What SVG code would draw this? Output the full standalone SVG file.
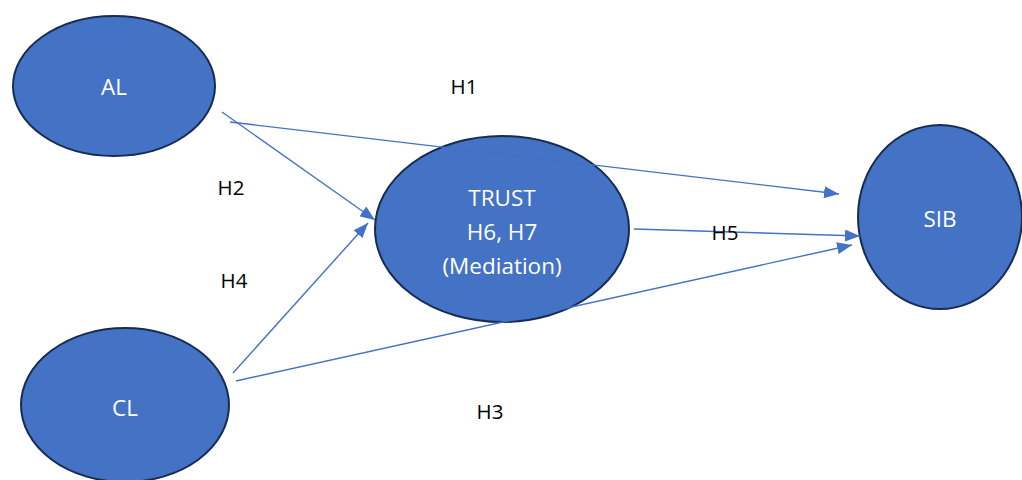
<svg xmlns="http://www.w3.org/2000/svg" width="1022" height="480" viewBox="0 0 1022 480">
<defs>
<style>
.node{fill:#4472C4;stroke:#172C51;stroke-width:2}
.nt{fill:#fff;font-family:"Open Sans","Liberation Sans",sans-serif;font-size:22.5px;text-anchor:middle;dominant-baseline:central}
.lbl{fill:#000;font-family:"Open Sans","Liberation Sans",sans-serif;font-size:20.5px;text-anchor:middle;dominant-baseline:central}
.edge{stroke:#4472C4;stroke-width:1.4;fill:none;marker-end:url(#ah)}
</style>
<marker id="ah" viewBox="0 0 15 12" refX="15" refY="6" markerWidth="15" markerHeight="12" markerUnits="userSpaceOnUse" orient="auto">
<path d="M0,0 L15,6 L0,12 z" fill="#4472C4"/>
</marker>
</defs>
<rect width="1022" height="480" fill="#fff"/>
<g id="AL"><ellipse class="node" cx="114" cy="86" rx="101" ry="70"/><text class="nt" x="114" y="86">AL</text></g>
<g id="CL"><ellipse class="node" cx="125" cy="405" rx="104" ry="77"/><text class="nt" x="125" y="407">CL</text></g>
<g id="TRUST"><ellipse class="node" cx="502" cy="229" rx="127" ry="93"/>
<text class="nt" x="502" y="197">TRUST</text><text class="nt" x="502" y="231">H6, H7</text><text class="nt" x="502" y="265">(Mediation)</text></g>
<g id="SIB"><ellipse class="node" cx="940" cy="217" rx="82" ry="92"/><text class="nt" x="940" y="218">SIB</text></g>
<g id="connectors">
<line class="edge" x1="230" y1="122" x2="839" y2="194"/>
<line class="edge" x1="222" y1="112" x2="375" y2="220"/>
<line class="edge" x1="233" y1="373" x2="368" y2="223"/>
<line class="edge" x1="236" y1="381" x2="852" y2="245"/>
<line class="edge" x1="634" y1="229" x2="860" y2="236"/>
</g>
<g id="labels">
<text class="lbl" x="464" y="86">H1</text>
<text class="lbl" x="231" y="187">H2</text>
<text class="lbl" x="234" y="280">H4</text>
<text class="lbl" x="725" y="232">H5</text>
<text class="lbl" x="490" y="411">H3</text>
</g>
</svg>
